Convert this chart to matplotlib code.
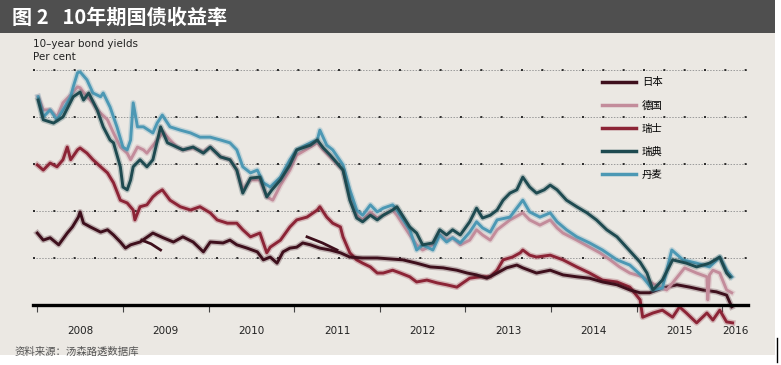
import numpy as np
import matplotlib
matplotlib.use('Agg')
from matplotlib import pyplot as plt
from matplotlib.patches import Rectangle
from matplotlib.lines import Line2D

plt.rcParams['font.family'] = ['Noto Sans CJK SC', 'DejaVu Sans']

# decimal years / per cent
japan_t = [2008.00, 2008.07, 2008.15, 2008.25, 2008.35, 2008.41, 2008.48, 2008.50, 2008.54, 2008.62,
           2008.74, 2008.82, 2008.89, 2008.97, 2009.03, 2009.09, 2009.20, 2009.35, 2009.47, 2009.59,
           2009.70, 2009.82, 2009.94, 2010.02, 2010.17, 2010.25, 2010.33, 2010.45, 2010.57, 2010.64,
           2010.72, 2010.80, 2010.87, 2010.95, 2011.03, 2011.10, 2011.19, 2011.30, 2011.42, 2011.54,
           2011.65, 2011.80, 2011.97, 2012.12, 2012.27, 2012.43, 2012.59, 2012.74, 2012.90, 2013.02,
           2013.13, 2013.25, 2013.37, 2013.48, 2013.60, 2013.67, 2013.83, 2013.99, 2014.14, 2014.30,
           2014.45, 2014.60, 2014.77, 2014.92, 2015.04, 2015.15, 2015.30, 2015.47, 2015.62, 2015.77,
           2015.93, 2016.05, 2016.11]
japan_v = [1.53, 1.38, 1.43, 1.28, 1.53, 1.66, 1.87, 1.98, 1.74, 1.66,
           1.55, 1.60, 1.49, 1.34, 1.21, 1.28, 1.34, 1.53, 1.43, 1.34,
           1.45, 1.34, 1.13, 1.34, 1.32, 1.38, 1.28, 1.21, 1.13, 0.96,
           1.02, 0.89, 1.13, 1.21, 1.23, 1.32, 1.28, 1.21, 1.17, 1.11,
           1.02, 1.00, 1.00, 0.98, 0.96, 0.89, 0.81, 0.79, 0.74, 0.68,
           0.64, 0.57, 0.68, 0.79, 0.85, 0.79, 0.68, 0.74, 0.64, 0.60,
           0.57, 0.49, 0.43, 0.32, 0.26, 0.26, 0.36, 0.43, 0.38, 0.32,
           0.28, 0.21, -0.04]
# two short stray pieces of the Japan line
japan2_t = [2009.22, 2009.33, 2009.44, np.nan, 2011.15, 2011.33, 2011.50]
japan2_v = [1.38, 1.30, 1.17, np.nan, 1.45, 1.32, 1.17]

swiss_t = [2008.00, 2008.07, 2008.15, 2008.23, 2008.30, 2008.35, 2008.39, 2008.47, 2008.50, 2008.58,
           2008.65, 2008.74, 2008.82, 2008.89, 2008.97, 2009.05, 2009.12, 2009.14, 2009.20, 2009.28,
           2009.35, 2009.40, 2009.46, 2009.55, 2009.67, 2009.79, 2009.90, 2010.02, 2010.10, 2010.22,
           2010.33, 2010.40, 2010.49, 2010.60, 2010.68, 2010.72, 2010.84, 2010.95, 2011.03, 2011.15,
           2011.27, 2011.30, 2011.38, 2011.45, 2011.54, 2011.57, 2011.65, 2011.73, 2011.80, 2011.89,
           2011.97, 2012.04, 2012.15, 2012.24, 2012.35, 2012.43, 2012.55, 2012.67, 2012.78, 2012.90,
           2012.97, 2013.05, 2013.17, 2013.29, 2013.37, 2013.44, 2013.55, 2013.64, 2013.67, 2013.75,
           2013.83, 2013.99, 2014.14, 2014.30, 2014.45, 2014.60, 2014.77, 2014.92, 2015.04, 2015.07,
           2015.19, 2015.30, 2015.42, 2015.50, 2015.58, 2015.70, 2015.82, 2015.89, 2015.97, 2016.05,
           2016.12]
swiss_v = [2.98, 2.87, 3.02, 2.94, 3.09, 3.36, 3.09, 3.30, 3.34, 3.23,
           3.09, 2.94, 2.81, 2.60, 2.23, 2.17, 2.02, 1.81, 2.09, 2.13,
           2.30, 2.38, 2.45, 2.23, 2.09, 2.02, 2.09, 1.96, 1.81, 1.74,
           1.74, 1.60, 1.45, 1.53, 1.11, 1.23, 1.38, 1.66, 1.81, 1.87,
           2.02, 2.09, 1.87, 1.74, 1.66, 1.45, 1.11, 0.96, 0.89, 0.81,
           0.68, 0.68, 0.74, 0.68, 0.60, 0.49, 0.53, 0.47, 0.43, 0.38,
           0.47, 0.57, 0.60, 0.60, 0.74, 0.96, 1.02, 1.11, 1.17, 1.06,
           1.02, 1.06, 0.96, 0.81, 0.68, 0.53, 0.49, 0.38, 0.11, -0.26,
           -0.17, -0.11, -0.26, -0.04, -0.17, -0.38, -0.17, -0.32, -0.11, -0.36,
           -0.38]

germany_t = [2008.01, 2008.07, 2008.15, 2008.23, 2008.30, 2008.39, 2008.47, 2008.50, 2008.58, 2008.65,
             2008.70, 2008.82, 2008.89, 2008.97, 2009.05, 2009.09, 2009.17, 2009.24, 2009.28, 2009.40,
             2009.47, 2009.55, 2009.63, 2009.70, 2009.82, 2009.94, 2010.02, 2010.14, 2010.25, 2010.33,
             2010.40, 2010.49, 2010.60, 2010.68, 2010.75, 2010.84, 2010.95, 2011.03, 2011.19, 2011.27,
             2011.34, 2011.42, 2011.57, 2011.65, 2011.73, 2011.80, 2011.89, 2011.97, 2012.04, 2012.15,
             2012.20, 2012.35, 2012.43, 2012.50, 2012.62, 2012.70, 2012.78, 2012.85, 2012.94, 2013.05,
             2013.13, 2013.20, 2013.29, 2013.37, 2013.52, 2013.67, 2013.75, 2013.87, 2013.99, 2014.07,
             2014.14, 2014.30, 2014.45, 2014.57, 2014.69, 2014.80, 2014.92, 2015.07, 2015.15, 2015.27,
             2015.35, 2015.42, 2015.56, 2015.70, 2015.82, 2015.83, 2015.85, 2015.89, 2015.97, 2016.05,
             2016.11]
germany_v = [4.43, 4.15, 4.15, 4.00, 4.30, 4.47, 4.64, 4.62, 4.43, 4.30,
             4.15, 3.94, 3.66, 3.36, 3.23, 3.09, 3.36, 3.30, 3.23, 3.51,
             3.68, 3.51, 3.36, 3.30, 3.34, 3.26, 3.36, 3.15, 3.09, 2.87,
             2.45, 2.66, 2.66, 2.30, 2.23, 2.55, 2.87, 3.19, 3.36, 3.45,
             3.30, 3.15, 2.87, 2.34, 1.91, 1.81, 1.98, 1.85, 1.91, 2.02,
             1.91, 1.49, 1.28, 1.17, 1.28, 1.49, 1.38, 1.43, 1.28, 1.38,
             1.60, 1.49, 1.38, 1.60, 1.81, 1.96, 1.81, 1.70, 1.81, 1.64,
             1.53, 1.38, 1.23, 1.11, 0.96, 0.81, 0.68, 0.60, 0.49, 0.38,
             0.32, 0.47, 0.79, 0.68, 0.60, 0.11, 0.64, 0.74, 0.68, 0.32,
             0.26]

sweden_t = [2008.01, 2008.07, 2008.19, 2008.30, 2008.42, 2008.50, 2008.54, 2008.60, 2008.70, 2008.77,
            2008.85, 2008.89, 2008.97, 2009.00, 2009.05, 2009.09, 2009.12, 2009.20, 2009.28, 2009.35,
            2009.44, 2009.52, 2009.63, 2009.70, 2009.82, 2009.94, 2010.02, 2010.14, 2010.25, 2010.33,
            2010.40, 2010.49, 2010.60, 2010.68, 2010.74, 2010.84, 2010.95, 2011.03, 2011.19, 2011.27,
            2011.34, 2011.42, 2011.57, 2011.65, 2011.73, 2011.80, 2011.89, 2011.97, 2012.04, 2012.15,
            2012.20, 2012.35, 2012.43, 2012.50, 2012.62, 2012.70, 2012.78, 2012.85, 2012.94, 2013.05,
            2013.13, 2013.20, 2013.29, 2013.37, 2013.44, 2013.52, 2013.60, 2013.67, 2013.75, 2013.83,
            2013.92, 2013.99, 2014.07, 2014.18, 2014.30, 2014.42, 2014.53, 2014.65, 2014.77, 2014.88,
            2015.04, 2015.12, 2015.19, 2015.30, 2015.42, 2015.58, 2015.70, 2015.85, 2015.97, 2016.05,
            2016.09]
sweden_v = [4.36, 3.94, 3.87, 4.00, 4.43, 4.53, 4.36, 4.51, 4.15, 3.79,
            3.51, 3.45, 2.94, 2.51, 2.45, 2.66, 2.94, 3.09, 2.94, 3.09,
            3.79, 3.45, 3.36, 3.30, 3.36, 3.23, 3.36, 3.15, 3.09, 2.87,
            2.38, 2.70, 2.72, 2.30, 2.45, 2.66, 2.98, 3.30, 3.40, 3.51,
            3.34, 3.19, 2.87, 2.23, 1.85, 1.77, 1.91, 1.81, 1.91, 2.02,
            2.09, 1.66, 1.53, 1.28, 1.32, 1.60, 1.49, 1.60, 1.49, 1.77,
            2.06, 1.85, 1.91, 2.02, 2.23, 2.38, 2.45, 2.72, 2.51, 2.38,
            2.45, 2.55, 2.45, 2.23, 2.09, 1.96, 1.81, 1.60, 1.45, 1.23,
            0.91, 0.68, 0.32, 0.53, 0.96, 0.89, 0.81, 0.89, 1.02, 0.68,
            0.60]

denmark_t = [2008.01, 2008.07, 2008.15, 2008.23, 2008.30, 2008.39, 2008.42, 2008.47, 2008.50, 2008.58,
             2008.65, 2008.74, 2008.77, 2008.85, 2008.93, 2009.00, 2009.05, 2009.09, 2009.12, 2009.17,
             2009.24, 2009.35, 2009.40, 2009.46, 2009.55, 2009.67, 2009.79, 2009.90, 2010.02, 2010.14,
             2010.25, 2010.33, 2010.40, 2010.49, 2010.57, 2010.64, 2010.72, 2010.84, 2010.95, 2011.03,
             2011.19, 2011.27, 2011.30, 2011.38, 2011.45, 2011.57, 2011.65, 2011.73, 2011.80, 2011.89,
             2011.97, 2012.04, 2012.15, 2012.20, 2012.35, 2012.43, 2012.50, 2012.62, 2012.70, 2012.78,
             2012.85, 2012.94, 2013.05, 2013.13, 2013.20, 2013.29, 2013.37, 2013.52, 2013.67, 2013.75,
             2013.87, 2013.99, 2014.07, 2014.18, 2014.30, 2014.45, 2014.60, 2014.77, 2014.92, 2015.07,
             2015.19, 2015.30, 2015.41, 2015.54, 2015.70, 2015.85, 2015.97, 2016.05, 2016.11]
denmark_v = [4.43, 4.00, 4.15, 3.94, 4.15, 4.43, 4.64, 4.94, 4.96, 4.79,
             4.51, 4.43, 4.51, 4.21, 3.79, 3.36, 3.30, 3.51, 4.30, 3.79,
             3.79, 3.66, 3.87, 4.04, 3.79, 3.72, 3.66, 3.57, 3.57, 3.51,
             3.45, 3.30, 2.94, 2.81, 2.87, 2.60, 2.51, 2.72, 3.09, 3.30,
             3.45, 3.51, 3.72, 3.40, 3.30, 2.98, 2.45, 2.02, 1.91, 2.13,
             1.98, 2.06, 2.13, 2.02, 1.60, 1.17, 1.28, 1.17, 1.49, 1.34,
             1.43, 1.32, 1.55, 1.77, 1.64, 1.55, 1.81, 1.87, 2.23, 1.98,
             1.87, 1.96, 1.77, 1.60, 1.45, 1.32, 1.17, 0.96, 0.85, 0.60,
             0.32, 0.36, 1.17, 0.96, 0.89, 0.81, 1.02, 0.74, 0.60]

names = ['日本', '德国', '瑞士', '瑞典', '丹麦']
colors = ['#3e0f1c', '#c38c9b', '#8c2436', '#1e4a50', '#4c98b4']
year_labels = ['2008', '2009', '2010', '2011', '2012', '2013', '2014', '2015', '2016']

W, H = 781, 365
BG = '#ebe8e3'
fig = plt.figure(figsize=(W / 100, H / 100), dpi=100, facecolor='white')

# chart background and title bar
fig.patches.append(Rectangle((0, 1 - 355 / H), 775 / W, 355 / H, transform=fig.transFigure,
                             facecolor=BG, edgecolor='none', zorder=-2))
fig.patches.append(Rectangle((0, 1 - 33 / H), 775 / W, 33 / H, transform=fig.transFigure,
                             facecolor='#4f4f4f', edgecolor='none', zorder=-1))
fig.text(12 / W, 1 - 17 / H, '图 2   10年期国债收益率', color='white', fontsize=14.5,
         va='center', ha='left', fontweight='bold')
fig.text(33 / W, 1 - 44 / H, '10–year bond yields', fontsize=7.5, va='center', color='#222222',
         family=['DejaVu Sans'])
fig.text(33 / W, 1 - 57 / H, 'Per cent', fontsize=7.5, va='center', color='#222222',
         family=['DejaVu Sans'])
fig.text(15 / W, 1 - 352 / H, '资料来源：汤森路透数据库', fontsize=7.5, va='center', color='#555555')
# small stray mark at the lower right corner of the scan
fig.add_artist(Line2D([777 / W, 777 / W], [1 - 362 / H, 1 - 338 / H], color='black', lw=1.0))

ax = fig.add_axes([33 / W, 1 - 328.5 / H, (748 - 33) / W, (328.5 - 67.6) / H])
ax.set_zorder(5)
ax.set_facecolor('none')
ax.set_xlim(2007.95, 2016.30)
ax.set_ylim(-0.5, 5.05)

# dotted gridlines
for g in [1, 2, 3, 4, 5]:
    ax.axhline(g, color='#9a9a9a', lw=0.7, ls=(0, (1.5, 1.5)), zorder=1)
    ax.axhline(g, color='#111111', lw=1.2, ls=(0, (1.2, 11)), zorder=1)

series = [(japan_t, japan_v), (germany_t, germany_v), (swiss_t, swiss_v),
          (sweden_t, sweden_v), (denmark_t, denmark_v)]
order = [2, 0, 1, 4, 3]
for k, i in enumerate(order):
    t, v = series[i]
    ax.plot(t, v, color=colors[i], lw=4.2, alpha=0.25, solid_joinstyle='round', zorder=2 + 2 * k)
    ax.plot(t, v, color=colors[i], lw=2.1, solid_joinstyle='round', zorder=3 + 2 * k, label=names[i])
ax.plot(japan2_t, japan2_v, color=colors[0], lw=2.0, zorder=3)

for s in ['top', 'right', 'left']:
    ax.spines[s].set_visible(False)
ax.spines['bottom'].set_position(('data', 0))
ax.spines['bottom'].set_linewidth(2.4)
ax.spines['bottom'].set_zorder(20)
ax.set_yticks([])

ax.set_xticks(np.arange(2008, 2017))
ax.set_xticklabels([])
ax.tick_params(axis='x', which='major', length=5, width=0.8, color='#444444', direction='out')
mids = [y + 0.5 for y in range(2008, 2016)] + [2016.15]
ax.set_xticks(mids, minor=True)
ax.set_xticklabels(year_labels, minor=True, fontsize=7.5, family=['DejaVu Sans'], color='#222222')
ax.tick_params(axis='x', which='minor', length=0, pad=15)

handles, labels = ax.get_legend_handles_labels()
lookup = dict(zip(labels, handles))
leg = ax.legend([lookup[n] for n in names], names, loc='upper left',
                bbox_to_anchor=(593 / W, 1 - 68 / H), bbox_transform=fig.transFigure,
                frameon=False, fontsize=7.5, handlelength=3.2, labelspacing=1.25,
                handletextpad=0.6)
for line in leg.get_lines():
    line.set_linewidth(2.5)

fig.savefig('out.png', dpi=100, facecolor='white')
